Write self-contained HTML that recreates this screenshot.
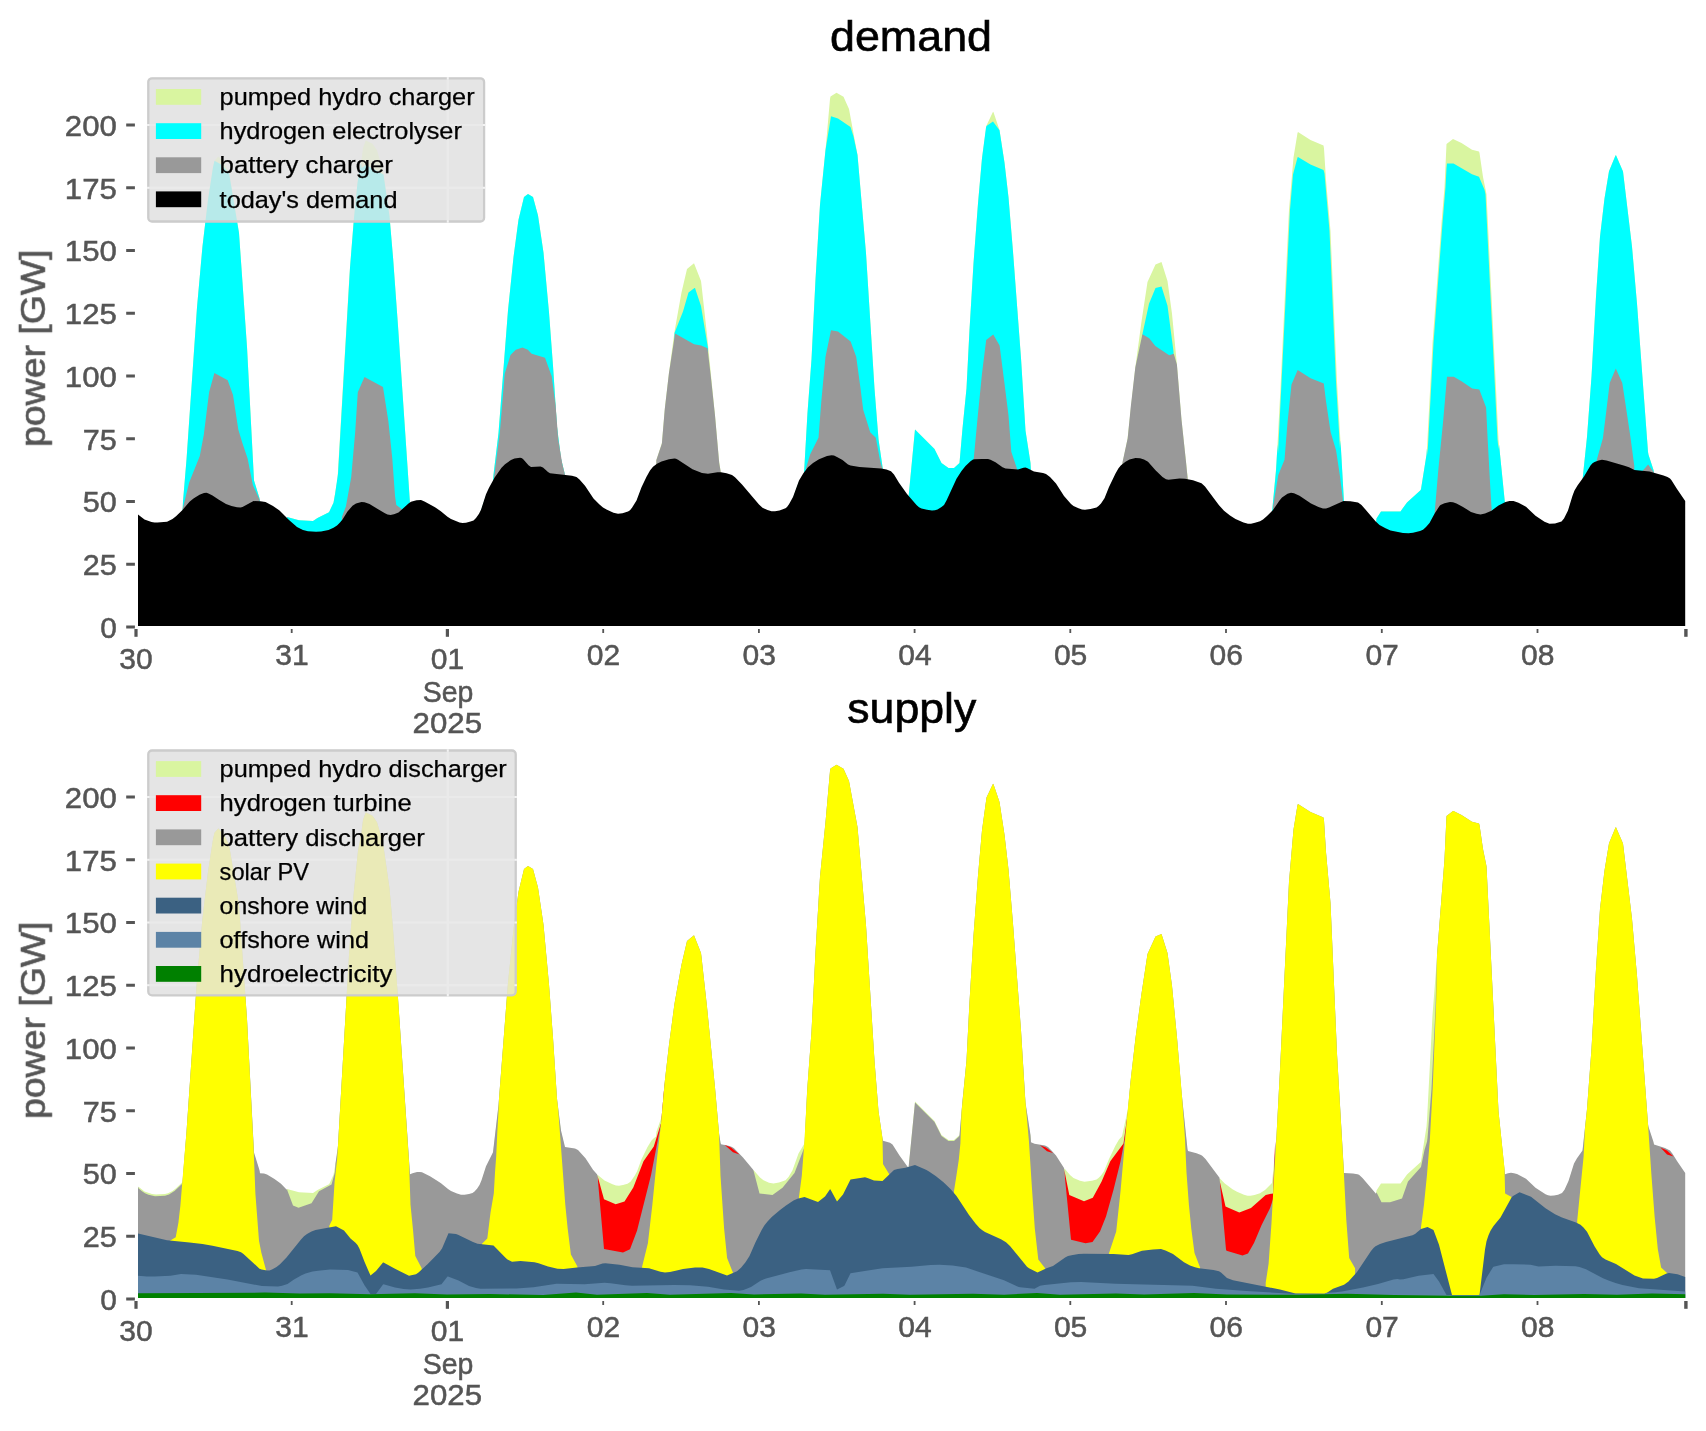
<!DOCTYPE html>
<html><head><meta charset="utf-8"><title>demand / supply</title>
<style>
html,body{margin:0;padding:0;background:#fff;}
svg{display:block;font-family:"Liberation Sans",sans-serif;}
</style></head>
<body>
<svg width="1706" height="1431" viewBox="0 0 1706 1431">
<defs><filter id="idf" filterUnits="userSpaceOnUse" x="0" y="0" width="1706" height="1431"><feOffset dx="0" dy="0"/></filter></defs>
<rect width="1706" height="1431" fill="#fff"/>
<clipPath id="lc1"><rect x="147.4" y="77.4" width="337.6" height="145.0" rx="4.5"/></clipPath>
<g clip-path="url(#lc1)"><rect x="147.4" y="77.4" width="337.6" height="145.0" fill="#E5E5E5"/>
<rect x="147.4" y="186.7" width="337.6" height="2.2" fill="#FFFFFF"/>
<rect x="147.4" y="123.9" width="337.6" height="2.2" fill="#FFFFFF"/>
<rect x="446.7" y="77.4" width="2.2" height="145.0" fill="#FFFFFF"/>
</g>
<clipPath id="lc2"><rect x="147.4" y="749.6" width="369.20000000000005" height="246.60000000000002" rx="4.5"/></clipPath>
<g clip-path="url(#lc2)"><rect x="147.4" y="749.6" width="369.20000000000005" height="246.60000000000002" fill="#E5E5E5"/>
<rect x="147.4" y="984.1" width="369.20000000000005" height="2.2" fill="#FFFFFF"/>
<rect x="147.4" y="921.4" width="369.20000000000005" height="2.2" fill="#FFFFFF"/>
<rect x="147.4" y="858.6" width="369.20000000000005" height="2.2" fill="#FFFFFF"/>
<rect x="147.4" y="795.9" width="369.20000000000005" height="2.2" fill="#FFFFFF"/>
<rect x="446.7" y="749.6" width="2.2" height="246.60000000000002" fill="#FFFFFF"/>
</g>
<path d="M138,625.9L138,515.9L144.5,520.9L151,523.4L155.5,524.1L165,523.6L168.5,522.6L173.5,519.8L177,516.9L182.5,511.5L183,501.6L186.5,459.8L197,307.4L202.5,246.2L208,199.8L213,167.3L214.5,160.8L218,156.7L218.5,156.5L224,163L229,172.6L239,232.9L247,347.1L254,480.5L259.5,498.2L260,502.7L265.5,503.5L273,507.4L280.5,512.8L286.5,518.9L287,517L299,520.3L313,520.9L317.5,518.1L329,512.2L329.5,511.6L333.5,502.7L337.5,478.9L349.5,274.6L353.5,223.5L358,178.7L361.5,160L363,148L365.5,141L366,140.6L372.5,143.8L377,150.2L380.5,162.2L383.5,174.5L389.5,216.3L393,257.1L398,325.9L410,503.7L412.5,502.7L417,501.6L420,501.4L422,501.8L430,505.8L436,509.4L441,512.8L448,518.6L451,520.5L457,523.1L461,524.2L464.5,524.3L469,523.5L472.5,522.4L474.5,521.1L477,518.3L479.5,514.5L481.5,509.8L486,495.8L493,481.7L493.5,474.7L498.5,432.9L508,310.6L513.5,257.2L518.5,219.7L524,196.9L528,194L533,197L538,215.5L543.5,252.8L549,312.6L553,365.7L557,426.8L561,458.6L564.5,473L565,476.6L575,477.9L578,479.5L585.5,487.8L592.5,498.6L596,502.8L603.5,509.3L612,513.6L615.5,514.8L618.5,515.2L622.5,514.8L627,513.4L629,512.5L630.5,511.2L634.5,505.5L637,501L641.5,488.7L647.5,476.4L651.5,470L653.5,467.9L656,466L656.5,459.6L661.5,444.6L662,442.2L665,407.2L669,372.8L674.5,331.6L681.5,292.4L687,269.1L694,263.2L701,281L701.5,284.9L707,334.7L715,415.4L719,460.7L721,473.8L729.5,475.5L732,476.4L734,477.8L743,487.1L759.5,506.4L763.5,509.8L769,512.2L773.5,512.9L779,512.1L785.5,509.7L788.5,506.5L792,500.7L798.5,482.9L804,473.7L807.5,412.7L811.5,359.5L815.5,279.7L820,204.8L825.5,149.9L830,99.1L830.5,96.6L836.5,92.7L843.5,96.7L849,108.9L857.5,154.9L866,253.3L874.5,388.8L878.5,439.3L883,470.3L890,472.3L892.5,474.1L899.5,485L908.5,497.5L915,429.5L934.5,449L941.5,463.1L948.5,468L954,468L959.5,463.1L962.5,428.4L966.5,388.5L969.5,329.9L973.5,263.4L978,203.5L982,158.3L986.5,125.5L993,111.7L993.5,112.2L999.5,130L1004.5,162.8L1008.5,197.4L1013,251.7L1021,358.2L1025.5,430.7L1030.5,463.1L1031,471.7L1034.5,473.2L1045,475L1048.5,477L1056.5,485.7L1064.5,498.1L1070,504.5L1073.5,507.4L1080,510.3L1084.5,511.2L1092,510.2L1096.5,508.9L1098.5,507.6L1101,505L1104,500.8L1109,488.4L1115.5,474.9L1119,469L1122,465.8L1127.5,439.1L1135.5,366L1141.5,321.4L1147.5,282.1L1155.5,264.4L1161.5,262L1167.5,281.1L1172,313.7L1177,365.6L1181.5,419.8L1188,480.6L1196.5,482.8L1201,484.4L1202.5,485.4L1205.5,488.6L1219.5,507.3L1223.5,511.8L1228.5,515.9L1233,519L1243.5,524.1L1247,525.1L1250.5,525.2L1254.5,524.5L1260,522.7L1265,519.4L1272,512.6L1276.5,463.4L1280.5,387.8L1289,209.7L1293.5,157.6L1297.5,132.9L1298,131.9L1310.5,139.9L1323.5,145.4L1324,148.6L1326,179.9L1330.5,231.1L1337,381.7L1344,502.5L1353,503L1357.5,503.7L1359,504.3L1362.5,507.5L1376,523.2L1376.5,518.6L1381,511.4L1400.5,511.4L1407,502.4L1420.5,490.3L1421,489.2L1426.5,454.8L1427,448.1L1432.5,343.3L1441.5,223L1444.5,187.3L1446.5,143.9L1453,139.1L1461.5,143L1472,149.7L1479,151.6L1479.5,153.1L1483,176.9L1486.5,194.3L1498.5,439.2L1505,503.7L1508,502.7L1511,502.3L1514,502.7L1517,503.6L1526,508.3L1535.5,517.3L1545.5,523.8L1548,524.8L1550.5,525.3L1554,525.1L1558,524.2L1562,522.5L1564.5,519.2L1568.5,510.6L1574,493.1L1577,487.7L1582.5,480.1L1587,436.9L1591.5,376.7L1596,296.8L1600,236.7L1604.5,198.4L1609,171.3L1615.5,155.4L1616,155.2L1623,171.5L1632,246.7L1637,303.8L1648,452.1L1648.5,454.8L1653.5,469.9L1654,474.1L1665,477.6L1670,480.1L1672.5,483.2L1677,490.6L1684,500.6L1684,625.9Z" fill="#D9F5A0"/>
<path d="M138,625.9L138,515.9L144.5,520.9L151,523.4L155.5,524.1L165,523.6L168.5,522.6L173.5,519.8L177,516.9L182.5,511.5L183,501.6L186.5,459.8L197,307.4L202.5,246.2L208,199.8L213,167.3L214.5,160.8L222,164.9L229,172.8L239,232.9L247,347.1L254,480.5L259.5,498.2L260,502.7L265.5,503.5L273,507.4L280.5,512.8L286.5,518.9L287,517L299,520.3L313,520.9L317.5,518.1L329,512.2L333.5,502.7L335,494.5L338,473.7L350,267.7L354,217.7L357.5,182.8L361,162.7L361.5,168L366,165L383.5,174.5L389.5,216.3L393,257.1L398,325.9L410,503.7L413,502.5L417.5,501.5L420,501.4L422.5,502L430.5,506.1L437,510L450,520L456.5,523L460.5,524.2L465.5,524.2L472,522.6L474.5,521.1L477,518.3L480.5,512.5L486,495.8L493,481.7L493.5,474.7L498.5,432.9L508,310.6L513.5,257.2L518.5,219.7L524,196.9L528,194L533,197L538,215.5L543.5,252.8L549,312.6L553,365.7L557,426.8L561,458.6L564.5,473L565,476.6L573.5,477.6L577,478.8L580,481.4L585.5,487.8L594,500.7L600.5,507L605.5,510.5L612.5,513.8L616.5,515L620.5,515.1L624.5,514.3L628.5,512.8L630.5,511.2L632.5,508.6L636.5,502.1L641.5,488.7L647,477.3L651,470.7L654.5,467.1L655,625.9L674,625.9L674.5,333L683,311.6L688.5,292.4L694.5,288L695,288L701,306.1L708,348.3L708.5,625.9L722,625.9L722.5,473.9L730,475.7L733.5,477.4L742.5,486.5L752.5,498.5L761.5,508.4L763.5,509.8L768,511.8L771,512.7L773.5,512.9L778,512.4L783,510.8L786,509.4L788,507.2L793,498.6L798.5,482.9L804,473.7L807.5,412.7L811.5,359.5L815.5,279.7L820,204.8L825.5,149.9L831,116.3L838,118.6L850.5,126.9L853.5,136.4L857.5,155L866,253.3L874.5,388.8L878.5,439.3L883,470.3L890,472.3L892.5,474.1L899.5,485L908.5,497.5L915,429.5L934.5,449L941.5,463.1L948.5,468L954,468L959.5,463.1L962.5,428.4L966.5,388.5L969.5,329.9L973.5,263.4L978,203.5L982,158.3L986,127.6L986.5,125.9L993,121.5L999.5,130.2L1004.5,162.8L1008.5,197.4L1013,251.7L1021,358.2L1025.5,430.7L1030.5,463.1L1031,471.7L1034,473.1L1044,474.7L1047.5,476.3L1051,479.4L1056,485L1064,497.4L1071,505.4L1073.5,507.4L1079,510L1082.5,511L1086,511.2L1091,510.5L1096.5,508.9L1099,507.2L1101.5,504.4L1104.5,499.8L1109,488.4L1115,475.8L1118,470.5L1120.5,467.2L1121,625.9L1142,625.9L1142.5,333.8L1149,303.8L1155.5,288.1L1161.5,286.6L1167.5,305.7L1173.5,351.4L1174,625.9L1189,625.9L1189.5,480.9L1197.5,483.1L1201,484.4L1202.5,485.4L1205.5,488.6L1219.5,507.3L1223.5,511.8L1228.5,515.9L1233,519L1243.5,524.1L1247,525.1L1250.5,525.2L1254.5,524.5L1260,522.7L1265,519.4L1272,512.6L1276,471L1277.5,444.6L1278,454L1290,209.7L1293,174.6L1297.5,157.6L1298,157.1L1310.5,164.5L1323.5,170L1324.5,173.6L1329.5,231.1L1336,381.7L1340,448.6L1340.5,440.2L1344,502.5L1353,503L1357.5,503.7L1359,504.3L1362.5,507.5L1376,523.2L1376.5,518.6L1381,511.4L1400.5,511.4L1407,502.4L1420.5,490.3L1421,489.2L1426.5,454.8L1427,448.1L1427.5,454.8L1433.5,343.3L1442.5,223L1445.5,187.3L1446.5,168.3L1447,163.6L1453.5,163.6L1472,174.3L1479,176.8L1484.5,189.8L1485.5,194.3L1497.5,439.2L1498.5,449.1L1499,444.2L1505,503.7L1508.5,502.6L1512,502.3L1515.5,503.1L1519.5,504.7L1527,509L1536.5,518.1L1544,523L1548,524.8L1551.5,525.3L1556,524.7L1561.5,522.9L1563,521.5L1565,518.3L1568,512L1574,493.1L1577,487.7L1582.5,480.1L1587,436.9L1591.5,376.7L1596,296.8L1600,236.7L1604.5,198.4L1609,171.3L1615.5,155.4L1616,155.2L1623,171.5L1632,246.7L1637,303.8L1648,452.1L1648.5,454.8L1653.5,469.9L1654,474.1L1665,477.6L1670,480.1L1672.5,483.2L1677,490.6L1684,500.6L1684,625.9Z" fill="#00FFFF"/>
<path d="M182.6,625.9L182.6,509L189.2,482.5L199.8,456L203.8,434.7L209.1,392.3L214.4,373.1L227.7,380.3L233,394.9L238.3,429.4L242.3,442.7L247.6,458.6L252.9,485.2L259.6,499.8L259.6,625.9Z" fill="#999999"/>
<path d="M341.9,625.9L341.9,517L345.9,506.4L351.2,477.2L355.2,432.1L357.8,392.3L364.5,377.1L383,386.9L388.4,421.5L392.3,458.6L395,495.8L396.3,505.1L401.6,509.1L401.6,625.9Z" fill="#999999"/>
<path d="M494,625.9L494,477.2L499.9,432.1L504.7,373.7L510.5,355.1L515.8,349.8L522.5,347.6L527.8,349.8L531.7,353.8L545,357.7L551.7,376.3L555.6,405.5L558.3,440.1L562.3,463.9L564.9,474.6L564.9,625.9Z" fill="#999999"/>
<path d="M656.3,625.9L656.3,460.2L661.9,443.4L664.7,409.8L668.9,373.5L675.1,333.5L694.1,344.2L701.1,345.5L707.5,348.3L710.8,376.3L715,415.4L719.2,463L720.6,471.3L720.6,625.9Z" fill="#999999"/>
<path d="M805.9,625.9L805.9,468.5L810.1,454.6L818.5,437.8L821.3,401.5L825.5,356.7L831,330.2L838,331.6L850.6,341.4L856.2,356.7L860.4,387.5L863.2,409.8L870.2,432.2L875.8,437.8L880,460.2L882.8,470L882.8,625.9Z" fill="#999999"/>
<path d="M973.6,625.9L973.6,460.2L977.8,415.4L982,373.5L986.2,340L993.2,334.4L999.6,345.5L1004.3,381.9L1008.5,415.4L1011.3,451.8L1016.9,468.5L1016.9,625.9Z" fill="#999999"/>
<path d="M1122.4,625.9L1122.4,462.8L1127.7,438.2L1130.7,407.5L1135.3,367.5L1142.4,334.3L1149.2,338.3L1155.3,346L1169.2,355.2L1173.8,353.7L1176.9,364.4L1181.5,419.8L1186.1,462.8L1187.6,478.2L1187.6,625.9Z" fill="#999999"/>
<path d="M1273.1,625.9L1273.1,505.9L1278.3,475.1L1284.5,459.7L1287.5,422.8L1291.5,384.4L1297.7,370L1310.6,378.3L1323.8,383.5L1326,401.3L1330.6,432.1L1336.1,450.5L1339.8,475.1L1342.9,499.7L1342.9,625.9Z" fill="#999999"/>
<path d="M1434.7,625.9L1434.7,512L1438.4,469L1443,422.8L1447,376.7L1453.8,376.7L1461.5,381.3L1472.2,388.4L1479.3,389.6L1486.1,407.5L1487.6,438.2L1490.1,484.3L1491.6,508.9L1491.6,625.9Z" fill="#999999"/>
<path d="M1596.8,625.9L1596.8,459.7L1602.9,438.2L1606,413.6L1609.7,382.9L1615.8,368.4L1622.3,382.9L1626,407.5L1630.6,438.2L1634.3,465.9L1634.3,625.9Z" fill="#999999"/>
<path d="M1642.9,625.9L1642.9,470.5L1648.1,464.4L1653.7,472L1653.7,625.9Z" fill="#999999"/>
<path d="M138,625.9L138,514.4L144.5,519.4L151.5,522L154.5,522.5L157.5,522.6L167,521.7L172.5,518.9L176,516.3L182.5,510L189.5,501.7L193.5,498.4L199.5,494.8L204,493.1L206.5,492.8L208.5,493.4L212.5,495.5L218.5,499.6L226,504L231.5,505.9L237,507.2L240.5,507.4L242.5,506.9L253.5,501.1L260.5,501.2L265.5,502L273,505.9L279.5,510.5L289,519.9L297,526.9L303,529.9L308,531.3L316,531.8L321,531.6L328.5,530L333.5,527.8L337,525.6L340,522.6L342.5,519.4L347.5,511.5L352.5,505.8L356,503.5L361.5,502L364.5,502.3L369.5,504.1L384.5,513.1L387.5,514.4L390.5,514.9L394,514.3L398.5,512.6L408.5,503.4L411,501.7L416.5,500.2L421,500.1L424.5,501.5L435,507.3L440.5,510.9L447.5,516.7L451,519L459.5,522.4L462.5,522.9L466,522.7L470.5,521.6L473.5,520.4L476,518L479,513.8L481,509.7L486,494.3L489,487.7L494.5,477.7L501.5,467.8L505,464.2L511,460L514.5,458.6L520,457.7L521.5,457.9L523,459L528.5,465.2L531,466.9L540.5,466.4L543,467.6L548,472.1L550,473.3L572,475.8L576.5,477L579.5,479.4L585,485.7L593.5,498.5L599.5,504.6L603,507.4L606.5,509.6L613.5,512.7L618,513.7L622.5,513.3L628,511.6L630,510.2L632,507.8L636.5,500.6L641.5,487.2L646.5,476.8L650,470.6L653,466.8L657,463.8L661.5,461.5L669,459.3L674.5,458.6L676,458.8L678,459.7L692.5,469.3L702,472.9L708,473.8L717.5,472.3L721,472.3L726.5,473.2L732,474.9L735,477.2L742,484.5L759,504.4L762.5,507.7L767.5,510.1L771.5,511.3L775,511.3L779.5,510.5L785.5,508.2L787,506.9L789,504.3L793,497.1L799,480.4L803.5,473L808,467.3L813,462.9L819,459.2L827,456.1L831.5,455.3L834,455.6L837,456.9L842.5,460.1L848,464.4L850.5,465.6L859.5,466.9L881,468.5L886.5,469.6L891,471.3L894,474.5L899,482.7L907,494.1L916.5,505L919,507.2L921.5,508.4L927,509.8L932,510.4L935,510.2L937.5,509.4L941.5,507.1L944,504.9L946.5,500.5L956.5,478.8L961.5,470.9L965.5,466L970.5,461.2L973,459.6L974.5,459.3L982,459.1L988,459.1L990.5,459.8L995.5,462.3L1002.5,467.3L1005.5,468.6L1018,469.4L1023.5,467.7L1025.5,467.5L1027.5,468.2L1034,471.6L1043,473L1046,473.9L1050,476.9L1056,483.5L1064,495.9L1071,503.9L1073.5,505.9L1078.5,508.3L1082,509.4L1085,509.7L1090.5,509.1L1096.5,507.4L1098.5,506.1L1101,503.5L1104.5,498.3L1109,486.9L1115.5,473.4L1118.5,468.2L1121,465.2L1125.5,461.7L1129.5,459.6L1135.5,458L1140,458.2L1144,459.6L1148,461.8L1155.5,470.3L1162.5,477L1166,479.3L1168.5,479.7L1179.5,478.5L1185,478.7L1193,480.2L1201.5,483.2L1205,486.5L1219,505.2L1224,510.7L1230,515.5L1235.5,519L1243.5,522.6L1248,523.8L1251,523.7L1255,522.8L1260,521.2L1263,519.5L1267,516.1L1273,510L1279.5,500.4L1282,497.5L1287.5,493.8L1291,492.8L1294,493.3L1299.5,495.7L1311,503.6L1318.5,507.1L1323,508.4L1326,508.4L1329,507.6L1343.5,501.1L1350.5,501.3L1358,502.4L1361.5,504.9L1375.5,521.2L1379.5,524.9L1385.5,528.3L1390.5,530.4L1403,532.9L1408.5,533.2L1413,532.8L1420,531.1L1423,529.7L1426,527.1L1429.5,523.1L1434.5,513.7L1439.5,506L1440.5,505.1L1444.5,503.3L1450,502L1453,502.2L1456.5,503.5L1463,506.9L1471,512L1476.5,513.8L1480.5,514.4L1485,513.5L1491.5,510.7L1498.5,505.4L1505.5,502L1509.5,500.9L1513.5,501.1L1518.5,502.7L1526,506.8L1535.5,515.8L1544.5,521.8L1549.5,523.7L1555,523.4L1561.5,521.4L1564,518.5L1568,510.5L1572.5,495.8L1574.5,490.6L1577.5,485.5L1584,476.4L1590.5,465.4L1592.5,463.2L1594.5,462.1L1598.5,460.5L1602,459.8L1606.5,460.4L1624.5,465.7L1629,467.3L1634.5,470.1L1649.5,471.4L1663.5,475.5L1667.5,477.1L1670,478.6L1671.5,480.3L1677,489.1L1685.2,501L1685.2,625.9Z" fill="#000000"/>
<path d="M138,1297.9L138,1187.9L138.5,1186.7L144.5,1191.4L152,1194.1L156,1194.6L165,1194.1L168,1193.3L172.5,1190.9L176,1188.3L182,1182.5L182.5,1183.5L186.5,1133.3L197,980.9L202.5,919.7L208,873.3L213,840.8L214.5,834.3L218,830.2L218.5,830L224,836.5L229,846.1L239,906.4L247,1020.6L254,1154L259.5,1171.7L260,1174.7L265.5,1175.5L273,1179.4L280.5,1184.8L286.5,1190.9L287,1189L299,1192.3L313,1192.9L317.5,1190.1L329,1184.2L329.5,1183.6L333.5,1174.7L337.5,1152.4L349.5,948.1L353.5,897L358,852.2L361.5,833.5L363,821.5L365.5,814.5L366,814L372.5,817.3L377,823.7L380.5,835.7L383.5,848L389.5,889.8L393,930.6L398,999.4L410,1175.7L412.5,1174.7L417,1173.6L420,1173.4L422,1173.8L430,1177.8L436,1181.4L441,1184.8L448,1190.6L451,1192.5L457,1195.1L461,1196.2L464.5,1196.3L469,1195.5L472.5,1194.4L474.5,1193.1L477,1190.3L479.5,1186.5L481.5,1181.8L486,1167.8L493,1153.7L498.5,1106.4L508,984.1L513.5,930.7L518.5,893.2L524,870.4L528,867.5L533,870.5L538,889L543.5,926.3L549,986.1L553,1039.2L557,1100.3L561,1132.1L565,1148.6L574,1149.7L576,1150.2L577.5,1151.1L580.5,1154L585.5,1159.8L593,1171.3L597,1175.8L597.5,1174.8L604.5,1180.4L612.5,1184.3L616,1185.4L619,1185.7L623,1185.1L627.5,1183.8L630.5,1181.7L634.5,1176L637,1171.5L641.5,1159.2L647.5,1146.9L651.5,1140.5L653.5,1138.4L656,1136.5L656.5,1131.6L662,1115.7L664.5,1084.2L669,1046.3L674.5,1005.1L681.5,965.9L687,942.6L694,936.7L701,954.5L701.5,958.4L707,1008.2L715,1088.9L719,1134.2L721,1145.8L729.5,1147.5L732,1148.4L734,1149.8L743,1159.1L753,1171L753.5,1170.1L760,1177.5L763.5,1180.3L769,1182.7L773.5,1183.4L779,1182.6L785.5,1180.2L788.5,1177L792.5,1170.2L798.5,1153.4L804,1144.2L804.5,1140.5L807.5,1086.2L811.5,1033L815.5,953.2L820,878.3L825.5,823.4L830,772.6L830.5,770.1L836.5,766.2L843.5,770.2L849,782.4L857.5,828.4L866,926.8L874.5,1062.3L878.5,1112.8L882.5,1140L883,1142.3L890,1144.3L892.5,1146.1L899.5,1157L908.5,1169.5L915,1101.5L934.5,1121L941.5,1135.1L948.5,1140L954,1140L959,1135.5L959.5,1136.6L962.5,1101.9L966.5,1062L969.5,1003.4L973.5,936.9L978,877L982,831.8L986.5,799L993,785.2L993.5,785.7L999.5,803.5L1004.5,836.3L1008.5,870.9L1013,925.2L1021,1031.7L1025.5,1104.2L1030.5,1136.6L1031,1143.7L1034.5,1145.2L1045,1147L1048.5,1149L1056.5,1157.7L1064,1169.4L1064.5,1168.6L1070,1175L1073.5,1177.9L1080,1180.8L1084.5,1181.7L1092,1180.7L1096.5,1179.4L1098.5,1178.1L1101,1175.5L1104,1171.3L1109,1158.9L1115.5,1145.4L1119,1139.5L1122,1136.3L1128,1108.6L1131,1078.4L1135.5,1039.5L1141.5,994.9L1147.5,955.6L1155.5,937.9L1161.5,935.5L1167.5,954.6L1172,987.2L1177,1039.1L1181.5,1093.3L1187.5,1150.7L1188,1152.6L1195.5,1154.5L1202,1157L1205.5,1160.6L1219.5,1179.3L1220,1178.4L1224.5,1183.2L1232.5,1189.2L1237,1191.7L1244,1194.8L1247.5,1195.7L1250.5,1195.7L1254.5,1195L1260,1193.2L1265,1189.9L1272,1183.1L1276.5,1136.9L1280.5,1061.3L1289,883.2L1293.5,831.1L1297.5,806.4L1298,805.4L1310.5,813.4L1323.5,818.9L1324,822.1L1326,853.4L1330.5,904.6L1337,1055.2L1344,1174.5L1353,1175L1357.5,1175.7L1359,1176.3L1362.5,1179.5L1376,1195.2L1376.5,1190.6L1381,1183.4L1400.5,1183.4L1407,1174.4L1420.5,1162.3L1421,1161.2L1426.5,1126.8L1427,1120.1L1432.5,1015.3L1444.5,860.8L1446.5,817.4L1453,812.6L1461.5,816.5L1472,823.2L1479,825.1L1479.5,826.6L1483,850.4L1486.5,867.8L1498.5,1112.7L1505,1175.7L1508,1174.7L1511,1174.3L1514,1174.7L1517,1175.6L1526,1180.3L1535.5,1189.3L1545.5,1195.8L1548,1196.8L1550.5,1197.3L1554,1197.1L1558,1196.2L1562,1194.5L1564.5,1191.2L1568.5,1182.6L1574,1165.1L1577,1159.7L1582.5,1152.1L1587,1110.4L1591.5,1050.2L1596,970.3L1600,910.2L1604.5,871.9L1609,844.8L1615.5,828.9L1616,828.7L1623,845L1632,920.2L1637,977.3L1648,1125.6L1648.5,1128.3L1653.5,1143.4L1654,1146.1L1665,1149.6L1670,1152.1L1672.5,1155.2L1677,1162.6L1684,1172.6L1684,1297.9Z" fill="#D9F5A0"/>
<path d="M597.5,1297.9L597.5,1175.8L604,1199.3L615.7,1204.3L624.5,1201.6L633.3,1187.6L643.5,1161.2L653.8,1146.5L661.1,1123.1L664.7,1082L664.7,1297.9Z" fill="#FF0000"/>
<path d="M1064.3,1297.9L1064.3,1170L1069.3,1194.9L1084,1201.3L1092.8,1197.8L1101.5,1181.7L1110.3,1161.2L1123.5,1143.6L1127.9,1112L1127.9,1297.9Z" fill="#FF0000"/>
<path d="M1219.7,1297.9L1219.7,1181.1L1225.5,1206.6L1239.3,1212.5L1251,1208.1L1265.7,1194.9L1273,1193.4L1274,1170L1275.2,1141L1275.2,1297.9Z" fill="#FF0000"/>
<path d="M138,1297.9L138,1186.4L138.5,1188.3L142,1191.3L145,1193.3L148.5,1194.7L155,1196.2L165,1195.7L169,1194.5L174.5,1191.1L182,1184.1L182.5,1182L186.5,1131.8L197,979.4L202.5,918.2L208,871.8L213,839.3L214.5,832.8L218,828.7L218.5,828.5L224,835L229,844.6L239,904.9L247,1019.1L254,1152.5L259.5,1170.2L260,1173.2L264,1173.6L267,1174.6L274.5,1178.9L281,1183.8L286.5,1189.4L287,1189.5L293,1205.5L298.5,1207.8L311.5,1203.3L319,1191.2L331.5,1184.5L335,1172L335.5,1163.4L338,1145.7L349.5,946.6L354,889.7L358,850.7L361.5,832L363,820L365.5,813L366,812.5L372.5,815.8L377,822.2L380.5,834.2L383.5,846.5L389.5,888.3L393,929.1L398,997.9L410,1174.2L412.5,1173.2L417,1172.1L420,1171.9L422,1172.3L430,1176.3L436,1179.9L441,1183.3L448,1189.1L451,1191L457,1193.6L461,1194.7L464.5,1194.8L469,1194L472.5,1192.9L474.5,1191.6L477,1188.8L479.5,1185L481.5,1180.3L486,1166.3L493,1152.2L498.5,1104.9L508,982.6L513.5,929.2L518.5,891.7L524,868.9L528,866L533,869L538,887.5L543.5,924.8L549,984.6L553,1037.7L557,1098.8L561,1130.6L565,1147.1L575,1148.4L578,1150L585.5,1158.3L593,1169.8L597,1174.3L597.5,1175.8L604,1249.1L623,1252.6L630,1249.2L637,1230.7L651,1175.3L661,1123.6L665,1079.2L669,1044.8L674.5,1003.6L681.5,964.4L687,941.1L694,935.2L701,953L701.5,956.9L707,1006.7L715,1087.4L719,1132.7L720.5,1142.7L721,1144.3L729.5,1146L732,1146.9L734,1148.3L743,1157.6L753,1169.5L753.5,1170.4L759.5,1193.4L772.5,1194.9L782.5,1187.7L794.5,1172.9L804.5,1147L807,1093.1L811.5,1031.5L815.5,951.7L820,876.8L825.5,821.9L830,771.1L830.5,768.6L836.5,764.7L843.5,768.7L849,780.9L857.5,826.9L866,925.3L874.5,1060.8L878.5,1111.3L882.5,1138.5L883,1140.8L890,1142.8L892.5,1144.6L899.5,1155.5L908.5,1168L915,1102.5L934.5,1122L941.5,1136.1L948.5,1141L954,1141L959,1136.5L959.5,1135.1L962.5,1100.4L966.5,1060.5L969.5,1001.9L973.5,935.4L978,875.5L982,830.3L986.5,797.5L993,783.7L993.5,784.2L999.5,802L1004.5,834.8L1008.5,869.4L1013,923.7L1021,1030.2L1025.5,1102.7L1030.5,1135.1L1031,1142.2L1034.5,1143.7L1045,1145.5L1048,1147.1L1051,1149.9L1056,1155.5L1064,1167.9L1071,1239.7L1085.5,1243.3L1092.5,1241.9L1100,1231.6L1106,1216.5L1113.5,1189.7L1120.5,1161.6L1125,1137.7L1127.5,1115.5L1130.5,1081.5L1135.5,1038L1141.5,993.4L1147.5,954.1L1155.5,936.4L1161.5,934L1167.5,953.1L1172,985.7L1177,1037.6L1181.5,1091.8L1187.5,1149.2L1188,1151.1L1196.5,1153.3L1201,1154.9L1202.5,1155.9L1205.5,1159.1L1219.5,1177.8L1226,1249.5L1226.5,1250.7L1242.5,1255.5L1248,1253.5L1254,1243.1L1261.5,1225.3L1270,1208.3L1273,1199.3L1274.5,1159.6L1276.5,1135.4L1280,1069.7L1289,881.7L1293.5,829.6L1297.5,804.9L1298,803.9L1310.5,811.9L1323.5,817.4L1324,820.6L1326,851.9L1330.5,903.1L1337,1053.7L1344,1173L1353,1173.5L1357.5,1174.2L1359,1174.8L1362.5,1178L1376,1193.7L1376.5,1192.3L1381.5,1202.2L1390,1202.2L1402,1198.4L1408,1181.5L1421,1167.1L1424.5,1150L1427,1141.7L1427.5,1138.2L1431.5,1089.1L1435.5,1008.2L1437,955.2L1444.5,859.3L1446.5,815.9L1453,811.1L1453.5,811.1L1461.5,815L1472,821.7L1479,823.6L1479.5,825.1L1483,848.9L1486.5,866.3L1498.5,1111.2L1505,1174.2L1508,1173.2L1511,1172.8L1514,1173.2L1517,1174.1L1526,1178.8L1535.5,1187.8L1545.5,1194.3L1548,1195.3L1550.5,1195.8L1554,1195.6L1558,1194.7L1562,1193L1564.5,1189.7L1568.5,1181.1L1574,1163.6L1577,1158.2L1582.5,1150.6L1587,1108.9L1591.5,1048.7L1596,968.8L1600,908.7L1604.5,870.4L1609,843.3L1615.5,827.4L1616,827.2L1623,843.5L1632,918.7L1637,975.8L1648,1124.1L1648.5,1126.8L1653.5,1141.9L1654,1144.6L1665,1148.1L1670,1150.6L1672.5,1153.7L1677,1161.1L1685.2,1173L1685.2,1297.9Z" fill="#999999"/>
<path d="M724.5,1144.8L731,1147.5L739.5,1154.5L733,1152.3Z" fill="#FF0000"/>
<path d="M1040,1145.3L1046,1147.5L1053,1153L1047,1151.2Z" fill="#FF0000"/>
<path d="M1660.5,1147.6L1667,1150.5L1673.5,1156.5L1667,1154.5Z" fill="#FF0000"/>
<path d="M169.9,1297.9L169.9,1240.7L175.7,1237.2L178.4,1222.7L180.4,1205.5L183,1173.6L186.5,1131.8L197,979.4L202.5,918.2L208,871.8L213,839.3L214.5,832.8L218,828.7L218.5,828.5L224,835L229,844.6L239,904.9L247,1019.1L253.5,1145.8L255.4,1193.8L259,1240.7L261.3,1252.4L266,1270L266,1297.9Z" fill="#FFFF00"/>
<path d="M329.3,1297.9L329.3,1225.7L332.2,1219.8L334.6,1181.7L337.2,1158.3L338,1145.7L349.5,946.6L353.5,895.5L358,850.7L361.5,832L363,820L365.5,813L366,812.5L372.5,815.8L377,822.2L380.5,834.2L383.5,846.5L389.5,888.3L393,929.1L398,997.9L409,1161.4L410.5,1204.7L412.9,1228.8L415.3,1256.1L421.7,1268.2L421.7,1297.9Z" fill="#FFFF00"/>
<path d="M482,1297.9L482,1243.8L487.3,1238.5L490.5,1212.7L493.8,1193.4L495,1172.5L496.2,1156.5L497.3,1132.3L498.4,1113L499,1099.1L508,982.6L513.5,929.2L518.5,891.7L524,868.9L528,866L533,869L538,887.5L543.5,924.8L549,984.6L553,1037.7L557,1098.8L558.1,1108.2L560.5,1140.4L562.9,1172.5L565.3,1204.7L567.7,1228.8L570.9,1254.5L577.4,1266.6L577.4,1297.9Z" fill="#FFFF00"/>
<path d="M642.1,1297.9L642.1,1266.7L647.9,1243.3L652.3,1205.2L656.7,1161.2L661.1,1123.1L665,1079.2L669,1044.8L674.5,1003.6L681.5,964.4L687,941.1L694,935.2L701,953L701.5,956.9L707,1006.7L715,1087.4L719,1132.7L720.5,1175.8L724.1,1228.6L727.1,1257.9L732.9,1272.6L732.9,1297.9Z" fill="#FFFF00"/>
<path d="M798.9,1297.9L798.9,1197.8L801.8,1175.8L804.5,1140.5L807.5,1084.7L811.5,1031.5L815.5,951.7L820,876.8L825.5,821.9L830,771.1L830.5,768.6L836.5,764.7L843.5,768.7L849,780.9L857.5,826.9L866,925.3L874.5,1060.8L878.5,1111.3L882.5,1138.5L883,1164L889.7,1175L889.7,1297.9Z" fill="#FFFF00"/>
<path d="M954,1297.9L954,1191L956.4,1175.8L958.8,1159.7L960.4,1143.6L961.5,1112.2L966.5,1060.5L969.5,1001.9L973.5,935.4L978,875.5L982,830.3L986.5,797.5L993,783.7L993.5,784.2L999.5,802L1004.5,834.8L1008.5,869.4L1013,923.7L1021,1030.2L1025,1096.4L1028.9,1140.7L1031.9,1187.6L1034.8,1228.6L1038.3,1259.4L1045.1,1268.2L1045.1,1297.9Z" fill="#FFFF00"/>
<path d="M1108.9,1297.9L1108.9,1253.5L1116.2,1231.5L1120.6,1190.5L1125,1140.7L1128,1107.1L1131,1076.9L1135.5,1038L1141.5,993.4L1147.5,954.1L1155.5,936.4L1161.5,934L1167.5,953.1L1172,985.7L1177,1037.6L1182,1096.5L1184.9,1137.2L1186.5,1172.5L1188.9,1204.7L1191.3,1228.8L1194.5,1252.9L1200.1,1267.4L1200.1,1297.9Z" fill="#FFFF00"/>
<path d="M1265.7,1297.9L1265.7,1282.8L1268.6,1263.8L1271.5,1222.7L1273.4,1188.6L1276.5,1135.4L1280.5,1059.8L1289,881.7L1293.5,829.6L1297.5,804.9L1298,803.9L1310.5,811.9L1323.5,817.4L1324,820.6L1326,851.9L1330.5,903.1L1337,1053.7L1343.5,1166.2L1346.3,1219.8L1349.2,1257.9L1355.1,1268.2L1355.1,1297.9Z" fill="#FFFF00"/>
<path d="M1421,1297.9L1421,1227.1L1423.9,1205.2L1426.9,1175.8L1429.8,1140.7L1432.7,1087.9L1436.2,1000L1437,955.2L1444.5,859.3L1446.5,815.9L1453,811.1L1453.5,811.1L1461.5,815L1472,821.7L1479,823.6L1479.5,825.1L1483,848.9L1486.5,866.3L1498.5,1111.2L1504.5,1168.6L1505.1,1193.4L1511.6,1197L1511.6,1297.9Z" fill="#FFFF00"/>
<path d="M1577.2,1297.9L1577.2,1220.8L1580.4,1188.6L1583.6,1156.5L1585,1128.5L1587,1108.9L1591.5,1048.7L1596,968.8L1600,908.7L1604.5,870.4L1609,843.3L1615.5,827.4L1616,827.2L1623,843.5L1632,918.7L1637,975.8L1648,1124.1L1651.3,1173.3L1654.6,1216.6L1657.8,1249.1L1661.1,1267.5L1667.6,1273.4L1667.6,1297.9Z" fill="#FFFF00"/>
<path d="M138,1297.9L138,1233.6L167,1240.3L189.5,1242.4L202.5,1244.1L212.5,1245.8L237.5,1251L241,1252.3L243.5,1253.9L259.5,1268.7L261.5,1269.5L267,1270.5L269.5,1270.4L272,1269.5L276.5,1266.9L280,1264.2L286.5,1257.5L301,1239.4L304,1236.3L307,1234.1L311.5,1231.5L315.5,1230L336,1226.2L344,1230.6L350.5,1238.4L355.5,1242.7L357.5,1245L359.5,1248.8L364.5,1261.8L370.5,1275.6L376,1270.9L383,1262.5L383.5,1262.5L395,1268.8L409,1275.8L416,1274.3L418.5,1272.5L427.5,1264.3L439.5,1252.1L442,1248.4L448.5,1233.2L456,1234.1L458,1234.7L473,1242.1L477.5,1243.8L493.5,1245.5L506,1258.2L507.5,1259.4L512,1261.7L520.5,1261.1L534.5,1262.3L538.5,1263.2L548,1266.4L557.5,1268.8L563.5,1268.9L577,1267.4L595,1266.1L602.5,1263.4L605.5,1263.2L619.5,1264.8L632.5,1267.2L649,1268.3L660.5,1271.8L665,1272.6L670,1272.1L683,1269L695,1267.6L702.5,1267.4L709,1269L727,1275.5L737,1271.2L741,1267.8L745.5,1262.3L749.5,1256.1L755.5,1242.2L761.5,1230.2L764.5,1225.2L767.5,1221.4L772,1216.8L780,1209.9L786,1205.4L793.5,1200.6L797.5,1198.7L804.5,1197L818,1202.1L825,1196.6L830,1189.3L830.5,1189.6L837,1201.6L843,1194.5L850.5,1179.4L865,1177.3L867.5,1177.9L874,1180.6L882.5,1181L894,1170.1L897.5,1169.1L905.5,1167.7L915,1165.1L926,1169.8L929,1171.5L936,1176.3L943.5,1182.3L950.5,1189L956.5,1195.9L969,1215.1L975.5,1223.6L979.5,1228L982,1230.1L985,1231.9L1001,1239.2L1006,1242.2L1010,1246.1L1027,1266.7L1029,1268.2L1037.5,1272.5L1046.5,1268.2L1053,1266.1L1065.5,1257.2L1068,1256L1071.5,1255.2L1078.5,1254.1L1084,1253.8L1113.5,1254.1L1128.5,1255L1132,1254.3L1142,1250.7L1153,1249.4L1161,1249.1L1165.5,1250.4L1173,1254.1L1184,1262.3L1190,1265.4L1195,1267.3L1199,1268.3L1213.5,1270.1L1219,1271.2L1221,1272.4L1227,1278.1L1233,1280.2L1280,1289.5L1295.5,1293.5L1324.5,1293.7L1327,1292.8L1333,1288.7L1344,1284.7L1348.5,1281.6L1357,1272L1371,1251L1373.5,1247.9L1375.5,1246.3L1380,1244L1386,1241.9L1412.5,1235.3L1415,1233.9L1421,1228.9L1427.5,1227L1433.5,1230L1439,1244.8L1452,1295.1L1479.5,1295.1L1485,1249.5L1486.5,1241.2L1488.5,1235.2L1490.5,1230.8L1493.5,1226L1500.5,1217.6L1511.5,1197.5L1513,1195.9L1519.5,1192.3L1531,1196.7L1545.5,1208.2L1555,1214.2L1562,1217.5L1576,1222.4L1580.5,1224.7L1583.5,1227.4L1587,1231.7L1594.5,1246.2L1599.5,1254.3L1602,1257.3L1605.5,1259.5L1616,1264L1634.5,1275.5L1643,1278.6L1654,1278.8L1657,1278L1666.5,1273.5L1669,1273L1677.5,1274.3L1685.2,1276.9L1685.2,1297.9Z" fill="#3B6182"/>
<path d="M138,1297.9L138,1275.8L147,1276.5L154.5,1276.6L170.5,1275.7L181,1274L196,1274.7L227.5,1279.5L262,1286.1L278,1286.4L282,1285.8L287.5,1283.9L294,1279.5L301.5,1275.3L305.5,1273.6L312.5,1271.6L318,1270.7L330,1269.6L348,1270L357.5,1272.5L364.5,1285.2L370.5,1294.1L376,1294.1L383,1284.4L383.5,1284.2L395,1287.6L403.5,1289L410.5,1289.4L420,1288.7L428,1287.5L441.5,1284.2L447.5,1276.6L448,1276.4L458.5,1280.6L469,1286.1L476,1288L480.5,1288.7L516.5,1288.4L533.5,1287.3L556.5,1283.8L584.5,1284.3L604.5,1282.8L610.5,1283.2L625.5,1285.3L632,1285.8L674,1284.9L690,1285.3L708,1286.8L724,1289.6L739,1290.7L743.5,1289.9L751,1287L760.5,1280.7L766,1278.5L789.5,1272.2L801.5,1269.5L806,1269L830,1270.2L837,1289.6L844,1286L844.5,1285.4L850.5,1273.2L882.5,1268.2L911.5,1266.7L930.5,1265L939.5,1264.7L952.5,1265.6L966,1267.6L1004,1280.2L1018,1286.7L1020,1287.2L1034.5,1288.7L1040,1285.8L1044.5,1285L1071,1282.3L1081,1282L1115.5,1283.8L1192.5,1285.8L1216,1288.7L1246.5,1291.1L1292,1293.7L1324.5,1293.7L1327,1292.8L1335.5,1292.3L1342,1291.5L1363,1287.4L1378,1284.1L1393.5,1279.4L1397.5,1279L1400,1279.5L1403.5,1279.2L1418.5,1275.8L1433.5,1274L1439,1281.6L1446.5,1294.9L1479.5,1295.1L1486.5,1277.7L1493,1267.2L1493.5,1266.8L1504,1264.3L1513.5,1264.3L1530.5,1264.7L1538.5,1266.5L1555.5,1265.8L1575.5,1266.2L1579.5,1267.1L1586,1269.3L1603,1278.2L1608.5,1280.6L1615.5,1283.1L1622.5,1284.9L1639,1288.2L1685.2,1291.4L1685.2,1297.9Z" fill="#5C83A6"/>
<path d="M138,1297.9L138,1293.2L265,1292.6L300,1293.6L330,1293.2L370,1294.3L415,1293.2L447,1294.6L490,1294L543,1295L576,1292.6L597,1294.7L647,1292.9L670,1294.7L731,1292.9L754,1294.5L801,1293.4L825,1294.7L883,1293.8L910,1294.7L973,1293.8L1004,1294.7L1037,1292.9L1060,1294.7L1116,1293.6L1144,1294.5L1194,1293.1L1227,1294.5L1300,1294.8L1347,1293.8L1394,1295L1450,1295.7L1481,1295.7L1504,1294.3L1534,1295L1584,1294.1L1617,1294.8L1652,1293.4L1685.2,1294.3L1685.2,1297.9Z" fill="#008000"/>
<rect x="126.2" y="625.50" width="8.7" height="3" fill="#555555"/>
<rect x="126.2" y="562.75" width="8.7" height="3" fill="#555555"/>
<rect x="126.2" y="500.00" width="8.7" height="3" fill="#555555"/>
<rect x="126.2" y="437.25" width="8.7" height="3" fill="#555555"/>
<rect x="126.2" y="374.50" width="8.7" height="3" fill="#555555"/>
<rect x="126.2" y="311.75" width="8.7" height="3" fill="#555555"/>
<rect x="126.2" y="249.00" width="8.7" height="3" fill="#555555"/>
<rect x="126.2" y="186.25" width="8.7" height="3" fill="#555555"/>
<rect x="126.2" y="123.50" width="8.7" height="3" fill="#555555"/>
<rect x="134.4" y="629.0" width="3.2" height="7.8" fill="#555555"/>
<rect x="290.8" y="629.0" width="1.8" height="4" fill="#555555"/>
<rect x="445.8" y="629.0" width="3.2" height="7.8" fill="#555555"/>
<rect x="602.3" y="629.0" width="1.8" height="4" fill="#555555"/>
<rect x="758.0" y="629.0" width="1.8" height="4" fill="#555555"/>
<rect x="913.7" y="629.0" width="1.8" height="4" fill="#555555"/>
<rect x="1069.4" y="629.0" width="1.8" height="4" fill="#555555"/>
<rect x="1225.1" y="629.0" width="1.8" height="4" fill="#555555"/>
<rect x="1380.9" y="629.0" width="1.8" height="4" fill="#555555"/>
<rect x="1536.6" y="629.0" width="1.8" height="4" fill="#555555"/>
<rect x="1684.2" y="629.0" width="3.4" height="7.8" fill="#555555"/>
<rect x="126.2" y="1297.50" width="8.7" height="3" fill="#555555"/>
<rect x="126.2" y="1234.75" width="8.7" height="3" fill="#555555"/>
<rect x="126.2" y="1172.00" width="8.7" height="3" fill="#555555"/>
<rect x="126.2" y="1109.25" width="8.7" height="3" fill="#555555"/>
<rect x="126.2" y="1046.50" width="8.7" height="3" fill="#555555"/>
<rect x="126.2" y="983.75" width="8.7" height="3" fill="#555555"/>
<rect x="126.2" y="921.00" width="8.7" height="3" fill="#555555"/>
<rect x="126.2" y="858.25" width="8.7" height="3" fill="#555555"/>
<rect x="126.2" y="795.50" width="8.7" height="3" fill="#555555"/>
<rect x="134.4" y="1301.0" width="3.2" height="7.8" fill="#555555"/>
<rect x="290.8" y="1301.0" width="1.8" height="4" fill="#555555"/>
<rect x="445.8" y="1301.0" width="3.2" height="7.8" fill="#555555"/>
<rect x="602.3" y="1301.0" width="1.8" height="4" fill="#555555"/>
<rect x="758.0" y="1301.0" width="1.8" height="4" fill="#555555"/>
<rect x="913.7" y="1301.0" width="1.8" height="4" fill="#555555"/>
<rect x="1069.4" y="1301.0" width="1.8" height="4" fill="#555555"/>
<rect x="1225.1" y="1301.0" width="1.8" height="4" fill="#555555"/>
<rect x="1380.9" y="1301.0" width="1.8" height="4" fill="#555555"/>
<rect x="1536.6" y="1301.0" width="1.8" height="4" fill="#555555"/>
<rect x="1684.2" y="1301.0" width="3.4" height="7.8" fill="#555555"/>
<rect x="148.3" y="78.30000000000001" width="335.8" height="143.2" rx="3.8" fill="rgba(229,229,229,0.8)" stroke="#CCCCCC" stroke-width="2.3"/>
<rect x="147.1" y="186.8" width="2.5" height="2.0" fill="#F3F3F3"/>
<rect x="482.8" y="186.8" width="2.5" height="2.0" fill="#F3F3F3"/>
<rect x="147.1" y="124.0" width="2.5" height="2.0" fill="#F3F3F3"/>
<rect x="482.8" y="124.0" width="2.5" height="2.0" fill="#F3F3F3"/>
<rect x="446.8" y="77.1" width="2.0" height="2.5" fill="#F3F3F3"/>
<rect x="446.8" y="220.2" width="2.0" height="2.5" fill="#F3F3F3"/>
<rect x="155.9" y="89.0" width="45.3" height="15.8" fill="#D9F5A0"/>
<rect x="155.9" y="123.2" width="45.3" height="15.8" fill="#00FFFF"/>
<rect x="155.9" y="157.3" width="45.3" height="15.8" fill="#999999"/>
<rect x="155.9" y="191.4" width="45.3" height="15.8" fill="#000000"/>
<rect x="148.3" y="750.5" width="367.40000000000003" height="244.8" rx="3.8" fill="rgba(229,229,229,0.8)" stroke="#CCCCCC" stroke-width="2.3"/>
<rect x="147.1" y="984.2" width="2.5" height="2.0" fill="#F3F3F3"/>
<rect x="514.4" y="984.2" width="2.5" height="2.0" fill="#F3F3F3"/>
<rect x="147.1" y="921.5" width="2.5" height="2.0" fill="#F3F3F3"/>
<rect x="514.4" y="921.5" width="2.5" height="2.0" fill="#F3F3F3"/>
<rect x="147.1" y="858.8" width="2.5" height="2.0" fill="#F3F3F3"/>
<rect x="514.4" y="858.8" width="2.5" height="2.0" fill="#F3F3F3"/>
<rect x="147.1" y="796.0" width="2.5" height="2.0" fill="#F3F3F3"/>
<rect x="514.4" y="796.0" width="2.5" height="2.0" fill="#F3F3F3"/>
<rect x="446.8" y="749.3" width="2.0" height="2.5" fill="#F3F3F3"/>
<rect x="446.8" y="994.0" width="2.0" height="2.5" fill="#F3F3F3"/>
<rect x="155.9" y="761.1" width="45.3" height="15.8" fill="#D9F5A0"/>
<rect x="155.9" y="795.2" width="45.3" height="15.8" fill="#FF0000"/>
<rect x="155.9" y="829.4" width="45.3" height="15.8" fill="#999999"/>
<rect x="155.9" y="863.6" width="45.3" height="15.8" fill="#FFFF00"/>
<rect x="155.9" y="897.7" width="45.3" height="15.8" fill="#3B6182"/>
<rect x="155.9" y="931.9" width="45.3" height="15.8" fill="#5C83A6"/>
<rect x="155.9" y="966.0" width="45.3" height="15.8" fill="#008000"/>
<g filter="url(#idf)"><text x="116.8" y="637.9" font-size="29" text-anchor="end" fill="#555555" textLength="16.6" lengthAdjust="spacingAndGlyphs" stroke="#555555" stroke-width="0.5">0</text>
<text x="116.8" y="575.1" font-size="29" text-anchor="end" fill="#555555" textLength="34.0" lengthAdjust="spacingAndGlyphs" stroke="#555555" stroke-width="0.5">25</text>
<text x="116.8" y="512.4" font-size="29" text-anchor="end" fill="#555555" textLength="34.0" lengthAdjust="spacingAndGlyphs" stroke="#555555" stroke-width="0.5">50</text>
<text x="116.8" y="449.6" font-size="29" text-anchor="end" fill="#555555" textLength="34.0" lengthAdjust="spacingAndGlyphs" stroke="#555555" stroke-width="0.5">75</text>
<text x="116.8" y="386.9" font-size="29" text-anchor="end" fill="#555555" textLength="52.0" lengthAdjust="spacingAndGlyphs" stroke="#555555" stroke-width="0.5">100</text>
<text x="116.8" y="324.1" font-size="29" text-anchor="end" fill="#555555" textLength="52.0" lengthAdjust="spacingAndGlyphs" stroke="#555555" stroke-width="0.5">125</text>
<text x="116.8" y="261.4" font-size="29" text-anchor="end" fill="#555555" textLength="52.0" lengthAdjust="spacingAndGlyphs" stroke="#555555" stroke-width="0.5">150</text>
<text x="116.8" y="198.7" font-size="29" text-anchor="end" fill="#555555" textLength="52.0" lengthAdjust="spacingAndGlyphs" stroke="#555555" stroke-width="0.5">175</text>
<text x="116.8" y="135.9" font-size="29" text-anchor="end" fill="#555555" textLength="52.0" lengthAdjust="spacingAndGlyphs" stroke="#555555" stroke-width="0.5">200</text>
<text x="136.0" y="668.6" font-size="29" text-anchor="middle" fill="#555555" textLength="33.4" lengthAdjust="spacingAndGlyphs" stroke="#555555" stroke-width="0.5">30</text>
<text x="292.0" y="664.7" font-size="29" text-anchor="middle" fill="#555555" textLength="33.4" lengthAdjust="spacingAndGlyphs" stroke="#555555" stroke-width="0.5">31</text>
<text x="447.4" y="668.6" font-size="29" text-anchor="middle" fill="#555555" textLength="33.4" lengthAdjust="spacingAndGlyphs" stroke="#555555" stroke-width="0.5">01</text>
<text x="603.5" y="664.7" font-size="29" text-anchor="middle" fill="#555555" textLength="33.4" lengthAdjust="spacingAndGlyphs" stroke="#555555" stroke-width="0.5">02</text>
<text x="759.2" y="664.7" font-size="29" text-anchor="middle" fill="#555555" textLength="33.4" lengthAdjust="spacingAndGlyphs" stroke="#555555" stroke-width="0.5">03</text>
<text x="914.9" y="664.7" font-size="29" text-anchor="middle" fill="#555555" textLength="33.4" lengthAdjust="spacingAndGlyphs" stroke="#555555" stroke-width="0.5">04</text>
<text x="1070.6" y="664.7" font-size="29" text-anchor="middle" fill="#555555" textLength="33.4" lengthAdjust="spacingAndGlyphs" stroke="#555555" stroke-width="0.5">05</text>
<text x="1226.3" y="664.7" font-size="29" text-anchor="middle" fill="#555555" textLength="33.4" lengthAdjust="spacingAndGlyphs" stroke="#555555" stroke-width="0.5">06</text>
<text x="1382.1" y="664.7" font-size="29" text-anchor="middle" fill="#555555" textLength="33.4" lengthAdjust="spacingAndGlyphs" stroke="#555555" stroke-width="0.5">07</text>
<text x="1537.8" y="664.7" font-size="29" text-anchor="middle" fill="#555555" textLength="33.4" lengthAdjust="spacingAndGlyphs" stroke="#555555" stroke-width="0.5">08</text>
<text x="448.0" y="701.9" font-size="29" text-anchor="middle" fill="#555555" textLength="50.6" lengthAdjust="spacingAndGlyphs" stroke="#555555" stroke-width="0.5">Sep</text>
<text x="447.3" y="733.3" font-size="29" text-anchor="middle" fill="#555555" textLength="69.4" lengthAdjust="spacingAndGlyphs" stroke="#555555" stroke-width="0.5">2025</text>
<text transform="translate(44.9,348.2) rotate(-90)" font-size="35" text-anchor="middle" fill="#555555" stroke="#555555" stroke-width="0.6" textLength="197.5" lengthAdjust="spacingAndGlyphs">power [GW]</text>
<text x="116.8" y="1309.9" font-size="29" text-anchor="end" fill="#555555" textLength="16.6" lengthAdjust="spacingAndGlyphs" stroke="#555555" stroke-width="0.5">0</text>
<text x="116.8" y="1247.2" font-size="29" text-anchor="end" fill="#555555" textLength="34.0" lengthAdjust="spacingAndGlyphs" stroke="#555555" stroke-width="0.5">25</text>
<text x="116.8" y="1184.4" font-size="29" text-anchor="end" fill="#555555" textLength="34.0" lengthAdjust="spacingAndGlyphs" stroke="#555555" stroke-width="0.5">50</text>
<text x="116.8" y="1121.7" font-size="29" text-anchor="end" fill="#555555" textLength="34.0" lengthAdjust="spacingAndGlyphs" stroke="#555555" stroke-width="0.5">75</text>
<text x="116.8" y="1058.9" font-size="29" text-anchor="end" fill="#555555" textLength="52.0" lengthAdjust="spacingAndGlyphs" stroke="#555555" stroke-width="0.5">100</text>
<text x="116.8" y="996.1" font-size="29" text-anchor="end" fill="#555555" textLength="52.0" lengthAdjust="spacingAndGlyphs" stroke="#555555" stroke-width="0.5">125</text>
<text x="116.8" y="933.4" font-size="29" text-anchor="end" fill="#555555" textLength="52.0" lengthAdjust="spacingAndGlyphs" stroke="#555555" stroke-width="0.5">150</text>
<text x="116.8" y="870.6" font-size="29" text-anchor="end" fill="#555555" textLength="52.0" lengthAdjust="spacingAndGlyphs" stroke="#555555" stroke-width="0.5">175</text>
<text x="116.8" y="807.9" font-size="29" text-anchor="end" fill="#555555" textLength="52.0" lengthAdjust="spacingAndGlyphs" stroke="#555555" stroke-width="0.5">200</text>
<text x="136.0" y="1340.6" font-size="29" text-anchor="middle" fill="#555555" textLength="33.4" lengthAdjust="spacingAndGlyphs" stroke="#555555" stroke-width="0.5">30</text>
<text x="292.0" y="1336.7" font-size="29" text-anchor="middle" fill="#555555" textLength="33.4" lengthAdjust="spacingAndGlyphs" stroke="#555555" stroke-width="0.5">31</text>
<text x="447.4" y="1340.6" font-size="29" text-anchor="middle" fill="#555555" textLength="33.4" lengthAdjust="spacingAndGlyphs" stroke="#555555" stroke-width="0.5">01</text>
<text x="603.5" y="1336.7" font-size="29" text-anchor="middle" fill="#555555" textLength="33.4" lengthAdjust="spacingAndGlyphs" stroke="#555555" stroke-width="0.5">02</text>
<text x="759.2" y="1336.7" font-size="29" text-anchor="middle" fill="#555555" textLength="33.4" lengthAdjust="spacingAndGlyphs" stroke="#555555" stroke-width="0.5">03</text>
<text x="914.9" y="1336.7" font-size="29" text-anchor="middle" fill="#555555" textLength="33.4" lengthAdjust="spacingAndGlyphs" stroke="#555555" stroke-width="0.5">04</text>
<text x="1070.6" y="1336.7" font-size="29" text-anchor="middle" fill="#555555" textLength="33.4" lengthAdjust="spacingAndGlyphs" stroke="#555555" stroke-width="0.5">05</text>
<text x="1226.3" y="1336.7" font-size="29" text-anchor="middle" fill="#555555" textLength="33.4" lengthAdjust="spacingAndGlyphs" stroke="#555555" stroke-width="0.5">06</text>
<text x="1382.1" y="1336.7" font-size="29" text-anchor="middle" fill="#555555" textLength="33.4" lengthAdjust="spacingAndGlyphs" stroke="#555555" stroke-width="0.5">07</text>
<text x="1537.8" y="1336.7" font-size="29" text-anchor="middle" fill="#555555" textLength="33.4" lengthAdjust="spacingAndGlyphs" stroke="#555555" stroke-width="0.5">08</text>
<text x="448.0" y="1373.9" font-size="29" text-anchor="middle" fill="#555555" textLength="50.6" lengthAdjust="spacingAndGlyphs" stroke="#555555" stroke-width="0.5">Sep</text>
<text x="447.3" y="1405.3" font-size="29" text-anchor="middle" fill="#555555" textLength="69.4" lengthAdjust="spacingAndGlyphs" stroke="#555555" stroke-width="0.5">2025</text>
<text transform="translate(44.9,1020.2) rotate(-90)" font-size="35" text-anchor="middle" fill="#555555" stroke="#555555" stroke-width="0.6" textLength="197.5" lengthAdjust="spacingAndGlyphs">power [GW]</text>
<text x="911.0" y="51.0" font-size="42.5" text-anchor="middle" fill="#000" textLength="162.0" lengthAdjust="spacingAndGlyphs" stroke="#000" stroke-width="0.6">demand</text>
<text x="911.8" y="722.9" font-size="42.5" text-anchor="middle" fill="#000" textLength="129.0" lengthAdjust="spacingAndGlyphs" stroke="#000" stroke-width="0.6">supply</text>
<text x="219.6" y="105.1" font-size="24.3" text-anchor="start" fill="#000" textLength="255.0" lengthAdjust="spacingAndGlyphs" stroke="#000" stroke-width="0.25">pumped hydro charger</text>
<text x="219.6" y="139.2" font-size="24.3" text-anchor="start" fill="#000" textLength="242.3" lengthAdjust="spacingAndGlyphs" stroke="#000" stroke-width="0.25">hydrogen electrolyser</text>
<text x="219.6" y="173.4" font-size="24.3" text-anchor="start" fill="#000" textLength="173.3" lengthAdjust="spacingAndGlyphs" stroke="#000" stroke-width="0.25">battery charger</text>
<text x="219.6" y="207.5" font-size="24.3" text-anchor="start" fill="#000" textLength="177.9" lengthAdjust="spacingAndGlyphs" stroke="#000" stroke-width="0.25">today&#39;s demand</text>
<text x="219.6" y="777.2" font-size="24.3" text-anchor="start" fill="#000" textLength="287.2" lengthAdjust="spacingAndGlyphs" stroke="#000" stroke-width="0.25">pumped hydro discharger</text>
<text x="219.6" y="811.4" font-size="24.3" text-anchor="start" fill="#000" textLength="192.10000000000002" lengthAdjust="spacingAndGlyphs" stroke="#000" stroke-width="0.25">hydrogen turbine</text>
<text x="219.6" y="845.5" font-size="24.3" text-anchor="start" fill="#000" textLength="205.3" lengthAdjust="spacingAndGlyphs" stroke="#000" stroke-width="0.25">battery discharger</text>
<text x="219.6" y="879.7" font-size="24.3" text-anchor="start" fill="#000" textLength="89.39999999999999" lengthAdjust="spacingAndGlyphs" stroke="#000" stroke-width="0.25">solar PV</text>
<text x="219.6" y="913.8" font-size="24.3" text-anchor="start" fill="#000" textLength="147.70000000000002" lengthAdjust="spacingAndGlyphs" stroke="#000" stroke-width="0.25">onshore wind</text>
<text x="219.6" y="948.0" font-size="24.3" text-anchor="start" fill="#000" textLength="149.3" lengthAdjust="spacingAndGlyphs" stroke="#000" stroke-width="0.25">offshore wind</text>
<text x="219.6" y="982.1" font-size="24.3" text-anchor="start" fill="#000" textLength="172.9" lengthAdjust="spacingAndGlyphs" stroke="#000" stroke-width="0.25">hydroelectricity</text></g>
</svg>
</body></html>
